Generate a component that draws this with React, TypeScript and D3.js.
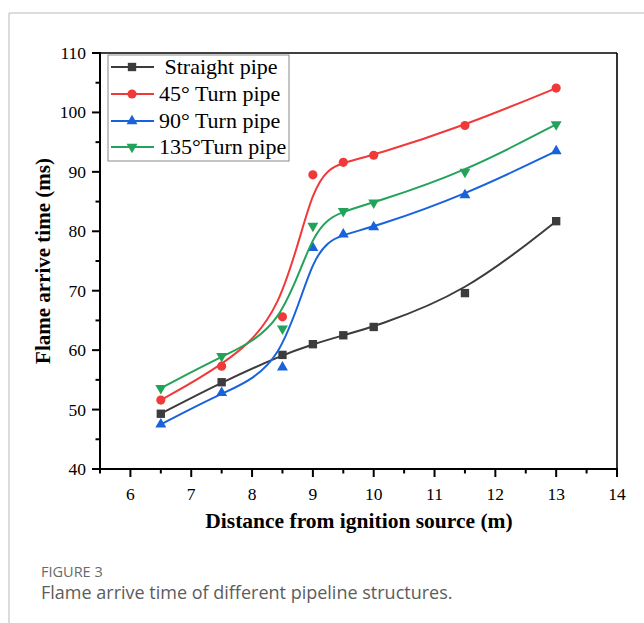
import React from "react";
import * as d3 from "d3";

const distances = [6.5, 7.5, 8.5, 9, 9.5, 10, 11.5, 13];
const straightPipe = [49.3, 54.6, 59.2, 61.0, 62.5, 63.9, 69.6, 81.7];
const turn45 = [51.6, 57.3, 65.6, 89.5, 91.6, 92.8, 97.8, 104.1];
const turn90 = [47.5, 52.8, 57.1, 77.2, 79.5, 80.7, 86.1, 93.5];
const turn135 = [53.6, 59.0, 63.6, 80.9, 83.4, 84.8, 90.0, 98.0];

const seriesNames = [" Straight pipe", "45° Turn pipe", "90° Turn pipe", "135°Turn pipe"];
const seriesColors = ["#3c3c3c", "#f03a3a", "#1863dc", "#23a35a"];
const seriesSymbols = ["square", "circle", "triangle", "triangleDown"];

const xTicks = [6, 7, 8, 9, 10, 11, 12, 13, 14];
const yTicks = [40, 50, 60, 70, 80, 90, 100, 110];

const xLabel = "Distance from ignition source (m)";
const yLabel = "Flame arrive time (ms)";
const figureLabel = "FIGURE 3";
const captionText = "Flame arrive time of different pipeline structures.";

const W = 644;
const H = 623;
const L = 100, R = 617, T = 53, B = 469;
const serif = "'Liberation Serif', 'Times New Roman', serif";

function symbolPath(kind: string) {
  if (kind === "square") return d3.symbol(d3.symbolSquare, 70)()!;
  if (kind === "circle") return d3.symbol(d3.symbolCircle, 66)()!;
  return d3.symbol(d3.symbolTriangle, 52)()!;
}

export default function App() {
  const x = d3.scaleLinear().domain([5.5, 14]).range([L, R]);
  const y = d3.scaleLinear().domain([40, 110]).range([B, T]);
  const allSeries = [straightPipe, turn45, turn90, turn135];
  const line = d3
    .line<number>()
    .x((_, i) => x(distances[i]))
    .y((v) => y(v))
    .curve(d3.curveBasis);

  const xMinor = d3.range(5.5, 14.01, 0.5).filter((v) => !xTicks.includes(v));
  const yMinor = d3.range(45, 110, 10);

  const legendRows = [67, 94, 121, 147];

  return (
    <svg
      width={W}
      height={H}
      style={{ position: "absolute", left: 0, top: 0, background: "#fff" }}
    >
      {/* card frame */}
      <line x1={9} y1={13} x2={W} y2={13} stroke="#d0d0d0" strokeWidth={1.5} />
      <line x1={9} y1={13} x2={9} y2={H} stroke="#d0d0d0" strokeWidth={1.5} />

      {/* frame top/right */}
      <line x1={L} y1={T} x2={R} y2={T} stroke="#000" strokeWidth={1.6} />
      <line x1={R} y1={T} x2={R} y2={B} stroke="#000" strokeWidth={1.6} />

      {/* x axis */}
      <line x1={L - 1} y1={B} x2={R + 1} y2={B} stroke="#000" strokeWidth={2} />
      {xTicks.map((t) => (
        <g key={"xt" + t}>
          <line x1={x(t)} y1={B} x2={x(t)} y2={B + 8} stroke="#000" strokeWidth={2} />
          <text
            x={x(t)}
            y={500}
            textAnchor="middle"
            fontFamily={serif}
            fontSize={17.5}
            fill="#000"
          >
            {t}
          </text>
        </g>
      ))}
      {xMinor.map((t) => (
        <line key={"xm" + t} x1={x(t)} y1={B} x2={x(t)} y2={B + 4.5} stroke="#000" strokeWidth={2} />
      ))}

      {/* y axis */}
      <line x1={L} y1={T - 1} x2={L} y2={B + 1} stroke="#000" strokeWidth={2} />
      {yTicks.map((t) => (
        <g key={"yt" + t}>
          <line x1={L - 8} y1={y(t)} x2={L} y2={y(t)} stroke="#000" strokeWidth={2} />
          <text
            x={86}
            y={y(t) + 6}
            textAnchor="end"
            fontFamily={serif}
            fontSize={17.5}
            fill="#000"
          >
            {t}
          </text>
        </g>
      ))}
      {yMinor.map((t) => (
        <line key={"ym" + t} x1={L - 4.5} y1={y(t)} x2={L} y2={y(t)} stroke="#000" strokeWidth={2} />
      ))}

      {/* axis titles */}
      <text
        x={359}
        y={528}
        textAnchor="middle"
        fontFamily={serif}
        fontWeight="bold"
        fontSize={21.5}
        fill="#000"
      >
        {xLabel}
      </text>
      <text
        transform={`translate(50, ${(T + B) / 2}) rotate(-90)`}
        textAnchor="middle"
        fontFamily={serif}
        fontWeight="bold"
        fontSize={21}
        fill="#000"
      >
        {yLabel}
      </text>

      {/* series */}
      {allSeries.map((vals, si) => (
        <g key={"s" + si}>
          <path d={line(vals) || ""} fill="none" stroke={seriesColors[si]} strokeWidth={2} />
          {vals.map((v, i) => (
            <path
              key={i}
              d={symbolPath(seriesSymbols[si])}
              transform={`translate(${x(distances[i])}, ${y(v)})${
                seriesSymbols[si] === "triangleDown" ? " rotate(180)" : ""
              }`}
              fill={seriesColors[si]}
            />
          ))}
        </g>
      ))}

      {/* legend */}
      <rect x={108} y={55} width={181} height={106} fill="#fff" stroke="#8a8a8a" strokeWidth={1} />
      {seriesNames.map((name, si) => (
        <g key={"lg" + si}>
          <line x1={111} y1={legendRows[si]} x2={154} y2={legendRows[si]} stroke={seriesColors[si]} strokeWidth={2} />
          <path
            d={symbolPath(seriesSymbols[si])}
            transform={`translate(132, ${legendRows[si]})${
              seriesSymbols[si] === "triangleDown" ? " rotate(180)" : ""
            }`}
            fill={seriesColors[si]}
          />
          <text
            x={159}
            y={legendRows[si] + 7}
            fontFamily={serif}
            fontSize={22}
            fill="#000"
            style={{ whiteSpace: "pre" }}
          >
            {name}
          </text>
        </g>
      ))}

      {/* caption */}
      <text x={41} y={577} fontFamily="'Open Sans', sans-serif" fontSize={14.5} fontWeight={500} fill="#6a6a6a">
        {figureLabel}
      </text>
      <text x={41} y={599} fontFamily="'Open Sans', sans-serif" fontSize={18} fill="#5c5c5c">
        {captionText}
      </text>
    </svg>
  );
}
